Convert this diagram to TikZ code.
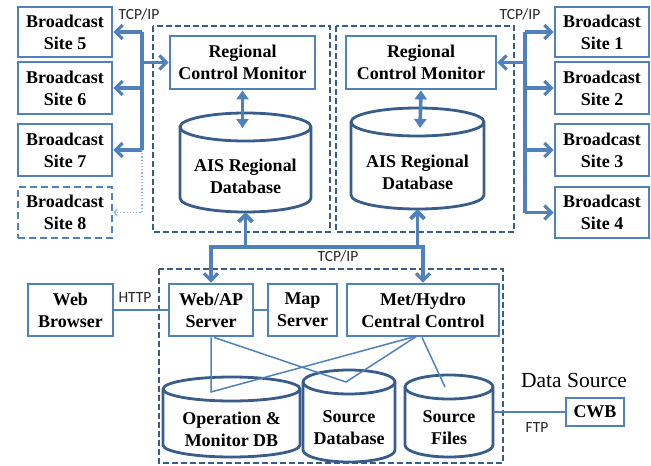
\documentclass[tikz,border=0pt]{standalone}
\usepackage{fontspec}
\setmainfont{Liberation Serif}
\newfontfamily\labelfont{Carlito}
\usetikzlibrary{arrows.meta,calc}
\definecolor{boxblue}{HTML}{4F81BD}
\definecolor{edgeblue}{HTML}{385D8A}
\definecolor{dotblue}{HTML}{95B3D7}

% rectangle node given by its corners: [opts]{x1}{y1}{x2}{y2}{name}
\newcommand\boxnode[6][]{\node[box,#1,minimum width={#4-#2},minimum height={#5-#3}] (#6) at ({(#2+#4)/2},{(#3+#5)/2})}

% database cylinder: {name}{x1}{x2}{ytop}{ybot}{ry}{text}
\newcommand\dbnode[7]{%
  \pgfmathsetmacro\dbrx{(#3-#2)/2}%
  \node[inner sep=0pt,minimum width={#3-#2},minimum height={#5-#4}] (#1) at ({(#2+#3)/2},{(#4+#5)/2}) {};
  \path[dbline] ({#2},{#5-#6}) arc[start angle=180,end angle=360,x radius=\dbrx pt,y radius=#6pt]
    -- ({#3},{#4+#6}) arc[start angle=0,end angle=180,x radius=\dbrx pt,y radius=#6pt]
    -- cycle;
  \draw[dbline,fill=none] ({#2},{#4+#6}) arc[start angle=180,end angle=360,x radius=\dbrx pt,y radius=#6pt];
  \node[dbtext] (#1-t) at ({(#2+#3)/2},{(#4+#5)/2+#6}) {#7};
}

\begin{document}
\begin{tikzpicture}[x=1pt,y=-1pt,
  box/.style={draw=boxblue,line width=2.8pt,fill=white,inner sep=0pt,align=center,
    font=\fontsize{18}{22}\selectfont\bfseries},
  region/.style={draw=edgeblue,line width=1.6pt,dash pattern=on 6pt off 3pt},
  dbline/.style={draw=edgeblue,line width=2.8pt,fill=white},
  dbtext/.style={inner sep=0pt,align=center,font=\fontsize{18}{22}\selectfont\bfseries},
  bus/.style={draw=boxblue,line width=3.2pt},
  arr/.style={bus,-{Straight Barb[length=7pt,width=14pt]}},
  darr/.style={bus,line width=3.6pt,{Triangle[length=9pt,width=12pt]}-{Triangle[length=9pt,width=12pt]}},
  link/.style={draw=boxblue,line width=1.5pt},
  dotarr/.style={draw=dotblue,line width=1.2pt,dotted,-{Straight Barb[length=3pt,width=7pt]}},
  lbl/.style={font=\labelfont\fontsize{15.5}{17}\selectfont,inner sep=0pt,text=black!85},
]
\useasboundingbox (0,0) rectangle (651,466);

% dashed groups
\draw[region] (153,26) rectangle (330,232);
\draw[region] (336,26) rectangle (514,232);
\draw[region] (159,269) rectangle (503,463);

% broadcast sites
\boxnode{18}{7}{112}{57}{s5}{Broadcast\\Site 5};
\boxnode{18}{62}{112}{114}{s6}{Broadcast\\Site 6};
\boxnode{18}{124}{112}{176}{s7}{Broadcast\\Site 7};
\boxnode[dash pattern=on 7pt off 4pt]{18}{187}{112}{238}{s8}{Broadcast\\Site 8};
\boxnode{555}{7}{649}{57}{s1}{Broadcast\\Site 1};
\boxnode{555}{62}{649}{114}{s2}{Broadcast\\Site 2};
\boxnode{555}{124}{649}{176}{s3}{Broadcast\\Site 3};
\boxnode{555}{187}{649}{238}{s4}{Broadcast\\Site 4};

% regional monitors and databases
\boxnode{170}{36}{315}{89}{rcmL}{Regional\\Control Monitor};
\boxnode{346}{36}{496}{89}{rcmR}{Regional\\Control Monitor};
\dbnode{aisL}{180}{311}{113}{212}{14}{AIS Regional\\Database}
\dbnode{aisR}{351}{484}{108}{209}{14}{AIS Regional\\Database}

% central servers
\boxnode{28}{284}{113}{336}{web}{Web\\Browser};
\boxnode{169}{284}{253}{336}{ap}{Web/AP\\Server};
\boxnode{268}{284}{337}{336}{map}{Map\\Server};
\boxnode{347}{284}{499}{336}{met}{Met/Hydro\\Central Control};
\boxnode{566}{398}{624}{426}{cwb}{CWB};

% central databases
\dbnode{opdb}{163}{300}{377}{457}{12}{Operation \&\\Monitor DB}
\dbnode{srcdb}{303}{395}{370}{462}{12}{Source\\Database}
\dbnode{srcf}{405}{493}{375}{457}{12}{Source\\Files}

% left site bus
\coordinate (bl5) at (142,32);
\coordinate (bl7) at (142,150);
\draw[bus] (bl5) -- (bl7);
\draw[arr] (bl5) -- (s5.east);
\draw[arr] (142,88) -- (s6.east);
\draw[arr] (bl7) -- (s7.east);
\draw[arr] (bl5 |- rcmL.west) -- (rcmL.west);
\draw[dotarr] (bl7) -- (bl7 |- s8.east) -- (s8.east);

% right site bus
\coordinate (br1) at (525,32);
\coordinate (br4) at (525,212.5);
\draw[bus] (br1) -- (br4);
\draw[arr] (br1) -- (s1.west);
\draw[arr] (br1 |- s2.west) -- (s2.west);
\draw[arr] (br1 |- s3.west) -- (s3.west);
\draw[arr] (br4) -- (s4.west);
\draw[arr] (br1 |- rcmR.east) -- (rcmR.east);

\node[lbl] (tcpL) at (139,14) {TCP/IP};
\node[lbl] (tcpR) at (520,14) {TCP/IP};

% monitor <-> database
\coordinate (aL) at (242.5,128);
\coordinate (aR) at (420,128);
\draw[darr] (rcmL.south) -- (aL);
\draw[darr] (rcmR.south) -- (aR);

% central bus
\coordinate (cb1) at (211,247);
\coordinate (cb2) at (423,247);
\draw[bus,line width=4.5pt] ([xshift=-1.6pt]cb1) -- ([xshift=1.6pt]cb2);
\draw[arr] (cb1) -- (ap.north);
\draw[arr] (cb2) -- (met.north);
\draw[arr,line width=3.8pt] (aisL.south |- cb1) -- (aisL.south);
\draw[arr,line width=3.8pt] (aisR.south |- cb1) -- (aisR.south);
\node[lbl] (tcpC) at (338,256) {TCP/IP};

% HTTP link
\draw[link] (web.east) -- (ap.west);
\draw[link] (ap.east) -- (map.west);
\node[lbl] (http) at (135,298) {HTTP};

% server to database links
\coordinate (p1) at (211,392);
\coordinate (p2) at (346,382);
\coordinate (p3) at (445,387);
\coordinate (m1) at (417,336);
\draw[link] (ap.south) -- (p1) -- (m1);
\draw[link] ([xshift=3pt]ap.south) -- (p2) -- (m1);
\draw[link] ([xshift=-1pt]met.south) -- (p3);

% external data source
\draw[link] (srcf.east |- cwb.west) -- (cwb.west);
\node[lbl] (ftp) at (537,428) {FTP};
\node[font=\fontsize{21.5}{24}\selectfont,inner sep=0pt] (dsrc) at (574,380) {Data Source};
\end{tikzpicture}
\end{document}
